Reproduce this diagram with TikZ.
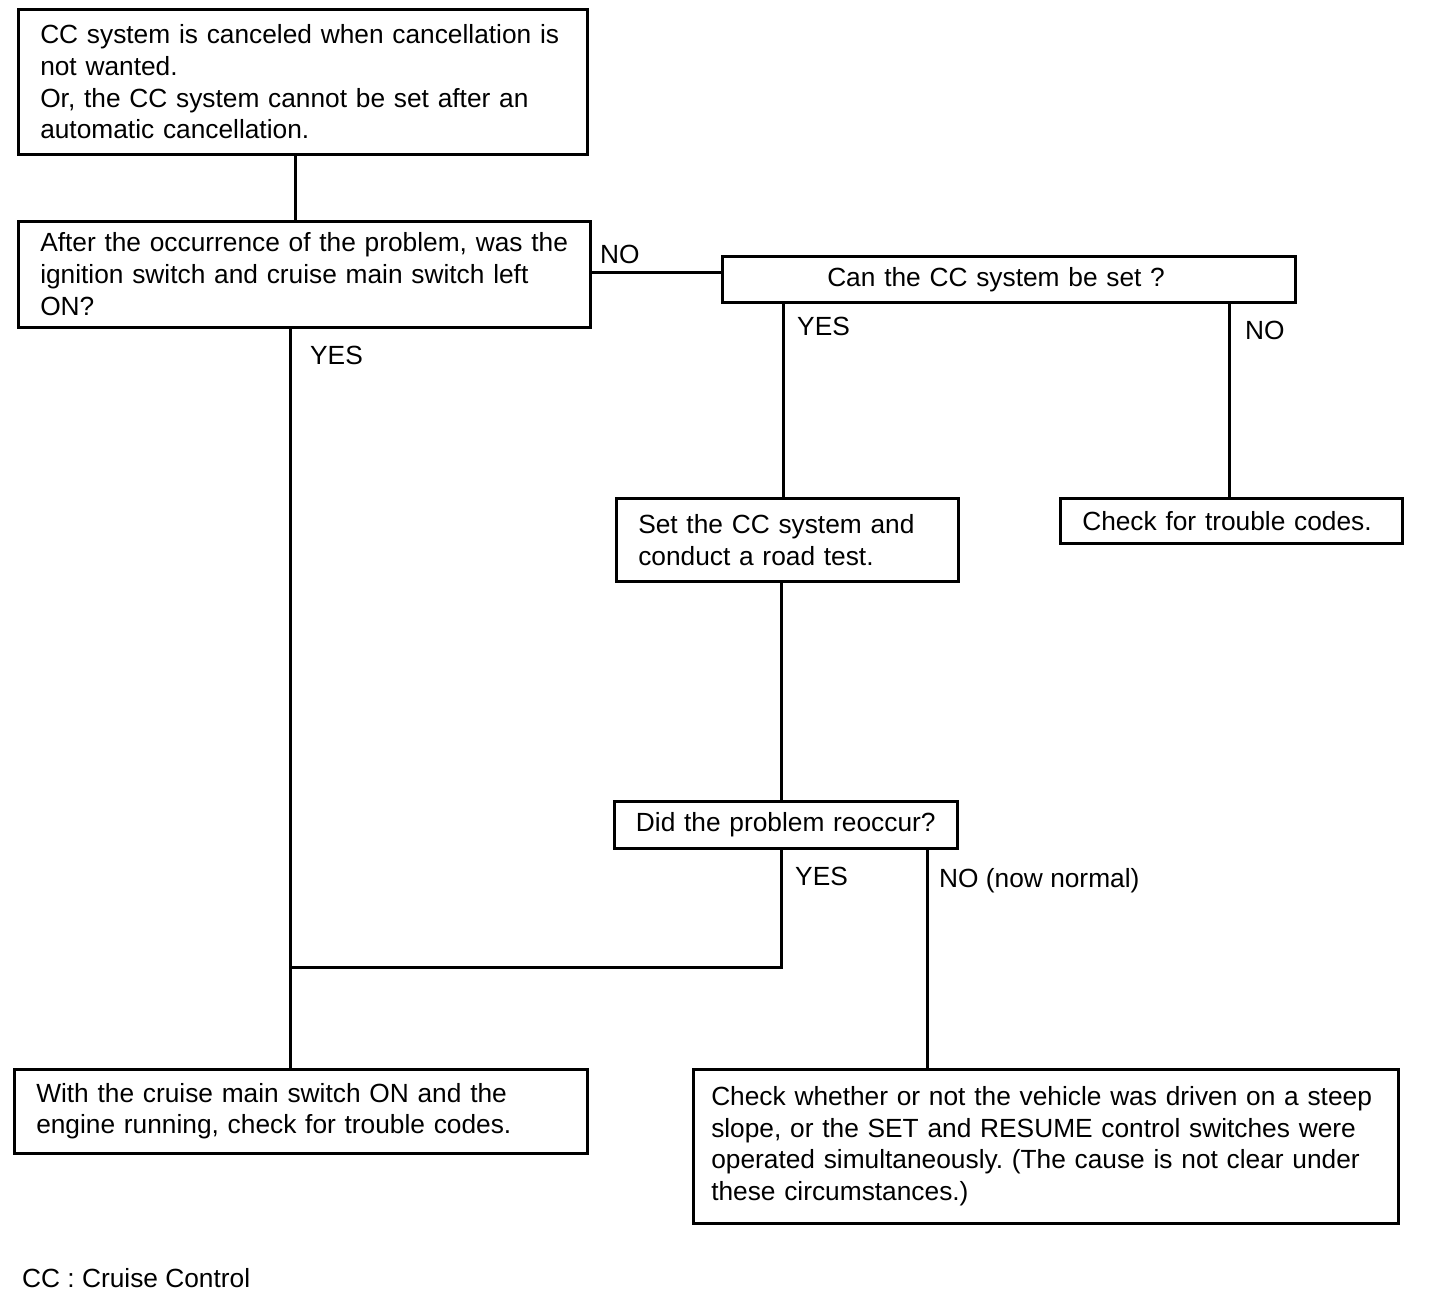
\documentclass[tikz,border=0pt]{standalone}
\usepackage{fontspec}
\setmainfont{Liberation Sans}
\frenchspacing
\begin{document}
\begin{tikzpicture}
[x=1pt, y=-1pt,
 box/.style={draw, line width=2.5pt, anchor=north west, inner xsep=22pt, inner ysep=0pt, align=left, font=\fontsize{26.3}{31.7}\selectfont},
 lbl/.style={anchor=base west, inner sep=0pt, font=\fontsize{26.3}{31.7}\selectfont},
 wire/.style={line width=3pt}]
\useasboundingbox (0,0) rectangle (1440,1296);
% boxes
\node[box, text width=525pt, minimum height=145pt] (start) at (17,8) {CC system is canceled when cancellation is\\ not wanted.\\ Or, the CC system cannot be set after an\\ automatic cancellation.};
\node[box, text width=528pt, minimum height=106pt] (ask) at (17,220) {After the occurrence of the problem, was the\\ ignition switch and cruise main switch left\\ ON?};
\node[box, inner xsep=105pt, text width=363pt, minimum height=46pt] (setq) at (721,255) {Can the CC system be set ?};
\node[box, text width=298pt, minimum height=83pt] (road) at (615,497) {Set the CC system and\\ conduct a road test.};
\node[box, text width=298pt, minimum height=45pt] (codes) at (1059,497) {Check for trouble codes.};
\node[box, inner xsep=10pt, text width=323pt, minimum height=47pt, align=center] (reoc) at (613,800) {Did the problem reoccur?};
\node[box, text width=529pt, minimum height=84pt] (fixa) at (13,1068) {With the cruise main switch ON and the\\ engine running, check for trouble codes.};
\node[box, inner xsep=18pt, text width=669pt, minimum height=154pt] (fixb) at (692,1068) {Check whether or not the vehicle was driven on a steep\\ slope, or the SET and RESUME control switches were\\ operated simultaneously. (The cause is not clear under\\ these circumstances.)};
% branch positions
\coordinate (c1) at (295,0);
\coordinate (c2) at (0,272);
\coordinate (c3) at (290,967);
\coordinate (c4) at (781,0);
\coordinate (c5) at (783,0);
\coordinate (c6) at (1229,0);
\coordinate (c7) at (927,0);
% connectors
\draw[wire] (start.south -| c1) -- (ask.north -| c1);
\draw[wire] (ask.east |- c2) -- (setq.west |- c2);
\draw[wire] (ask.south -| c3) -- (fixa.north -| c3);
\draw[wire] (setq.south -| c5) -- (road.north -| c5);
\draw[wire] (setq.south -| c6) -- (codes.north -| c6);
\draw[wire] (road.south -| c4) -- (reoc.north -| c4);
\draw[wire] (reoc.south -| c4) |- (c3);
\draw[wire] (reoc.south -| c7) -- (fixb.north -| c7);
% labels
\node[lbl] (no1) at (600,263) {NO};
\node[lbl] (yes1) at (310,364) {YES};
\node[lbl] (yes2) at (797,335) {YES};
\node[lbl] (no2) at (1245,339) {NO};
\node[lbl] (yes3) at (795,885) {YES};
\node[lbl] (no3) at (939,887) {NO (now normal)};
\node[lbl] (note) at (22,1287) {CC : Cruise Control};
\end{tikzpicture}
\end{document}
